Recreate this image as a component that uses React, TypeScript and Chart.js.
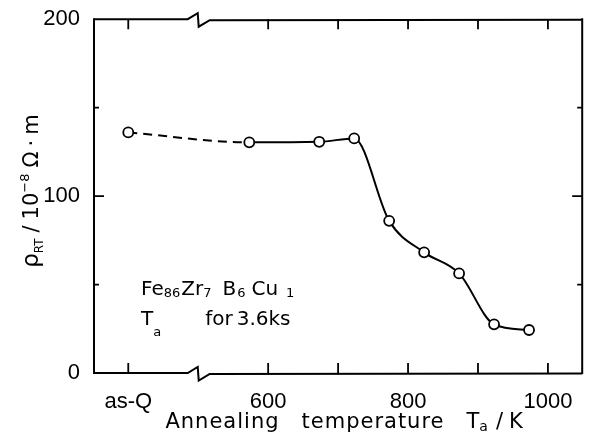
import React, { useEffect, useRef } from 'react';
import { Chart, registerables } from 'chart.js';

Chart.register(...registerables);

// ---- data ----
// 400 is the stand-in position of the as-quenched sample on the broken temperature axis
const annealTemps = [400, 573, 673, 723, 773, 823, 873, 923, 973];
const resistivity = [136, 130.4, 130.7, 132.6, 86, 68.2, 56.3, 27.5, 24.3];
const xTickValues = [400, 600, 700, 800, 900, 1000];
const xTickLabels = ['as-Q', '600', '', '800', '', '1000'];
const yTickValues = [0, 50, 100, 150, 200];
const yTickLabels = ['0', '', '100', '', '200'];
const xRange = [351, 1049];
const yRange = [0, 200];
const axisBreakAt = 485;

const TEXT_FONT = '"DejaVu Sans", sans-serif';
const TICK_FONT = '"Liberation Sans", Arial, sans-serif';

type Part = { t: string; size: number; dy?: number; gap?: number; ls?: number };

function partWidth(ctx: CanvasRenderingContext2D, p: Part) {
  ctx.font = `${p.size}px ${TEXT_FONT}`;
  (ctx as any).letterSpacing = `${p.ls || 0}px`;
  return ctx.measureText(p.t).width;
}

function drawRich(ctx: CanvasRenderingContext2D, x: number, y: number, parts: Part[], align: 'left' | 'center') {
  let total = 0;
  parts.forEach((p) => { total += (p.gap || 0) + partWidth(ctx, p); });
  let cx = align === 'center' ? x - total / 2 : x;
  ctx.textAlign = 'left';
  ctx.textBaseline = 'alphabetic';
  ctx.fillStyle = '#000';
  parts.forEach((p) => {
    cx += p.gap || 0;
    const w = partWidth(ctx, p);
    ctx.fillText(p.t, cx, y + (p.dy || 0));
    cx += w;
  });
  (ctx as any).letterSpacing = '0px';
}

const framePlugin = {
  id: 'frameAndText',
  afterDraw(chart: any) {
    const { ctx, chartArea: a, scales } = chart;
    const x = scales.x;
    const y = scales.y;
    ctx.save();
    ctx.strokeStyle = '#000';
    ctx.lineWidth = 2;
    ctx.lineJoin = 'miter';
    ctx.miterLimit = 3;
    // side borders
    ctx.beginPath();
    ctx.moveTo(a.left, a.top - 1);
    ctx.lineTo(a.left, a.bottom + 1);
    ctx.moveTo(a.right, a.top - 1);
    ctx.lineTo(a.right, a.bottom + 1);
    ctx.stroke();
    // top & bottom borders with axis break
    const bx = x.getPixelForValue(axisBreakAt);
    [a.top, a.bottom].forEach((yy: number) => {
      ctx.beginPath();
      ctx.moveTo(a.left, yy);
      ctx.lineTo(bx, yy);
      ctx.lineTo(bx + 10, yy - 6);
      ctx.lineTo(bx + 11, yy + 7.5);
      ctx.lineTo(bx + 22, yy + 1);
      ctx.lineTo(a.right, yy + 0.5);
      ctx.stroke();
    });
    // inward tick marks
    ctx.lineWidth = 1.8;
    ctx.beginPath();
    x.ticks.forEach((t: any) => {
      const px = x.getPixelForValue(t.value);
      ctx.moveTo(px, a.bottom);
      ctx.lineTo(px, a.bottom - 10);
      ctx.moveTo(px, a.top);
      ctx.lineTo(px, a.top + 10);
    });
    y.ticks.forEach((t: any) => {
      if (t.value <= y.min || t.value >= y.max) return;
      const len = t.value % 100 === 0 ? 10 : 5;
      const py = y.getPixelForValue(t.value);
      ctx.moveTo(a.left, py);
      ctx.lineTo(a.left + len, py);
      ctx.moveTo(a.right, py);
      ctx.lineTo(a.right - len, py);
    });
    ctx.stroke();

    // x-axis title
    drawRich(ctx, (a.left + a.right) / 2 + 6, 428, [
      { t: 'Annealing', size: 21, ls: 1 },
      { t: 'temperature', size: 21, ls: 1, gap: 22 },
      { t: 'T', size: 21, gap: 22 },
      { t: 'a', size: 14, dy: 3 },
      { t: '/', size: 21, gap: 8 },
      { t: 'K', size: 21, gap: 6 },
    ], 'center');

    // y-axis title (rotated)
    ctx.save();
    ctx.translate(38, (a.top + a.bottom) / 2 - 5);
    ctx.rotate(-Math.PI / 2);
    drawRich(ctx, 0, 0, [
      { t: 'ρ', size: 23 },
      { t: 'RT', size: 12, dy: 5 },
      { t: '/', size: 21, gap: 6 },
      { t: '10', size: 21, gap: 6 },
      { t: '−8', size: 13, dy: -9 },
      { t: 'Ω', size: 21, gap: 6 },
      { t: '·', size: 21, gap: 5 },
      { t: 'm', size: 21, gap: 5 },
    ], 'center');
    ctx.restore();

    // composition annotation
    const ax = a.left + 47;
    drawRich(ctx, ax, 295, [
      { t: 'Fe', size: 20 },
      { t: '86', size: 13, dy: 2 },
      { t: 'Zr', size: 20, gap: 1 },
      { t: '7', size: 13, dy: 2 },
      { t: 'B', size: 20, gap: 11 },
      { t: '6', size: 13, dy: 2, gap: 1 },
      { t: 'Cu', size: 20, gap: 6 },
      { t: '1', size: 13, dy: 2, gap: 8 },
    ], 'left');
    drawRich(ctx, ax, 325, [
      { t: 'T', size: 20 },
      { t: 'a', size: 13, dy: 11 },
      { t: 'for', size: 20, gap: 44 },
      { t: '3.6ks', size: 20, gap: 4 },
    ], 'left');
    ctx.restore();
  },
};

export default function App() {
  const canvasRef = useRef<HTMLCanvasElement | null>(null);

  useEffect(() => {
    const canvas = canvasRef.current;
    if (!canvas) return;
    const chart = new Chart(canvas, {
      type: 'line',
      data: {
        datasets: [
          {
            data: annealTemps.map((t, i) => ({ x: t, y: resistivity[i] })),
            borderColor: '#000',
            borderWidth: 2,
            pointRadius: 5,
            pointBorderWidth: 1.8,
            pointBackgroundColor: '#fff',
            pointBorderColor: '#000',
            cubicInterpolationMode: 'monotone',
            fill: false,
            segment: {
              borderDash: (c: any) => (c.p0DataIndex === 0 ? [9, 6] : undefined),
            },
          } as any,
        ],
      },
      options: {
        animation: false,
        responsive: false,
        devicePixelRatio: 1,
        layout: { padding: { top: 19, right: 1, left: 0, bottom: 0 } },
        plugins: { legend: { display: false }, tooltip: { enabled: false } },
        scales: {
          x: {
            type: 'linear',
            min: xRange[0],
            max: xRange[1],
            afterBuildTicks: (s: any) => { s.ticks = xTickValues.map((v) => ({ value: v })); },
            afterFit: (s: any) => { s.height = 59; },
            ticks: {
              callback: (v: any) => {
                const i = xTickValues.indexOf(Number(v));
                return i >= 0 ? xTickLabels[i] : '';
              },
              autoSkip: false,
              maxRotation: 0,
              padding: 8,
              color: '#000',
              font: { family: TICK_FONT, size: 22 },
            },
            grid: { display: false },
            border: { display: false },
          },
          y: {
            type: 'linear',
            min: yRange[0],
            max: yRange[1],
            afterBuildTicks: (s: any) => { s.ticks = yTickValues.map((v) => ({ value: v })); },
            afterFit: (s: any) => { s.width = 94; },
            ticks: {
              callback: (v: any) => {
                const i = yTickValues.indexOf(Number(v));
                return i >= 0 ? yTickLabels[i] : '';
              },
              autoSkip: false,
              padding: 6,
              color: '#000',
              font: { family: TICK_FONT, size: 22 },
            },
            grid: { display: false },
            border: { display: false },
          },
        },
      } as any,
      plugins: [framePlugin],
    });
    return () => chart.destroy();
  }, []);

  return (
    <div style={{ position: 'fixed', left: 0, top: 0, width: 589, height: 432, background: '#fff' }}>
      <canvas ref={canvasRef} width={589} height={432} style={{ display: 'block' }} />
    </div>
  );
}
